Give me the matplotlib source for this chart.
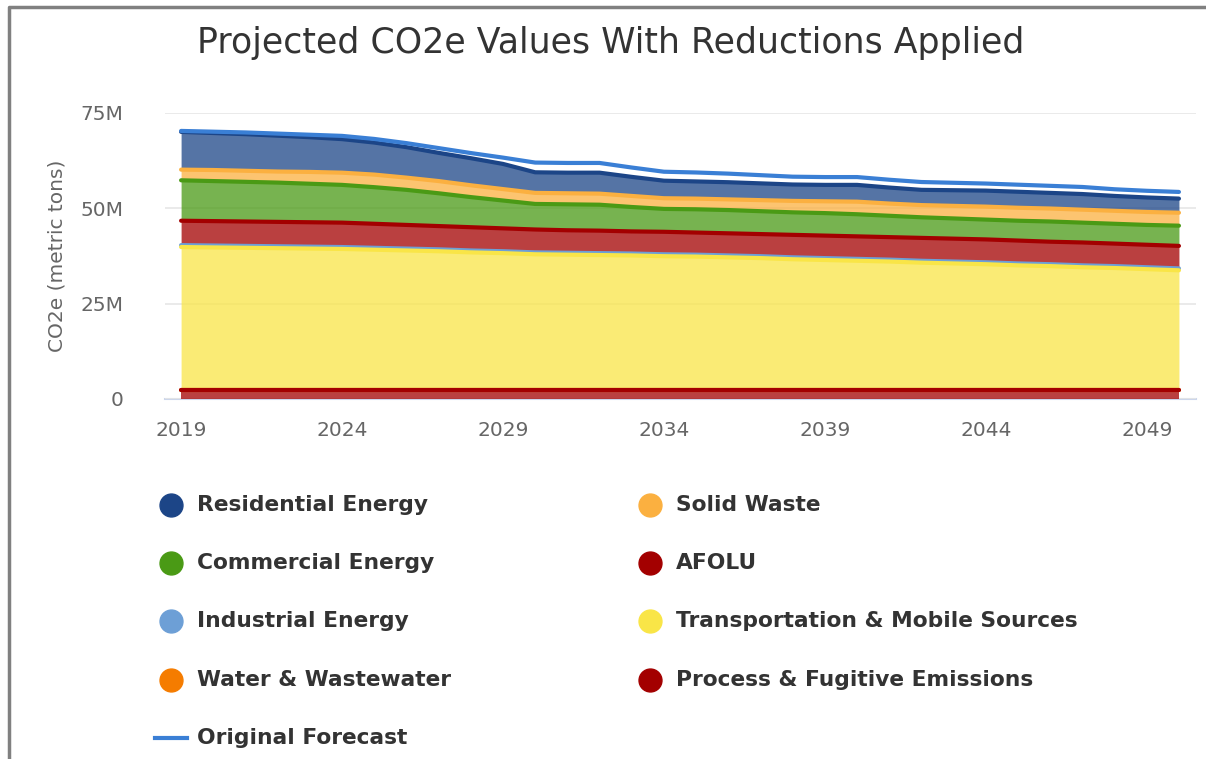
import numpy as np
import matplotlib.pyplot as plt
from matplotlib.lines import Line2D

years = np.arange(2019, 2051)

# stacked series, values in millions of metric tons (top of stack first, as in the legend)
residential = [9.9, 9.7, 9.6, 9.4, 9.1, 8.8, 8.4, 8.0, 7.4, 7.1, 6.6, 5.4, 5.4, 5.5, 5.0, 4.6,
               4.5, 4.5, 4.4, 4.3, 4.3, 4.4, 4.2, 4.0, 4.1, 4.2, 4.2, 4.1, 4.1, 3.9, 3.8, 3.7]
solid_waste = [2.8, 2.9, 2.9, 2.9, 3.1, 3.2, 3.3, 3.2, 3.2, 3.1, 3.0, 2.9, 2.9, 2.9, 2.9, 2.8,
               2.8, 2.8, 2.9, 3.0, 3.1, 3.3, 3.2, 3.2, 3.3, 3.4, 3.4, 3.4, 3.4, 3.4, 3.4, 3.4]
commercial = [10.6, 10.5, 10.4, 10.3, 10.1, 9.9, 9.6, 9.2, 8.6, 7.9, 7.3, 6.7, 6.8, 6.8, 6.4, 6.0,
              6.1, 6.1, 6.0, 5.9, 5.9, 5.8, 5.6, 5.4, 5.3, 5.2, 5.2, 5.3, 5.2, 5.2, 5.2, 5.3]
afolu = [6.4, 6.4, 6.4, 6.4, 6.4, 6.4, 6.3, 6.2, 6.1, 6.1, 6.0, 6.0, 5.9, 5.9, 5.8, 5.9,
         5.8, 5.8, 5.8, 5.9, 5.9, 5.9, 5.9, 6.0, 6.0, 6.0, 6.0, 5.9, 6.0, 5.9, 5.9, 5.9]
industrial = [0.5, 0.5, 0.5, 0.5, 0.5, 0.5, 0.5, 0.5, 0.5, 0.5, 0.5, 0.5, 0.5, 0.5, 0.5, 0.5,
              0.5, 0.5, 0.5, 0.5, 0.5, 0.5, 0.5, 0.5, 0.5, 0.5, 0.5, 0.5, 0.5, 0.5, 0.5, 0.5]
transportation = [37.5, 37.4, 37.3, 37.2, 37.1, 37.0, 36.8, 36.6, 36.4, 36.1, 35.9, 35.6, 35.5, 35.4, 35.3, 35.1,
                  35.0, 34.8, 34.6, 34.3, 34.1, 33.9, 33.7, 33.4, 33.2, 33.0, 32.7, 32.5, 32.2, 32.0, 31.7, 31.4]
water = [0.05, 0.05, 0.05, 0.05, 0.05, 0.05, 0.05, 0.05, 0.05, 0.05, 0.05, 0.05, 0.05, 0.05, 0.05, 0.05,
         0.05, 0.05, 0.05, 0.05, 0.05, 0.05, 0.05, 0.05, 0.05, 0.05, 0.05, 0.05, 0.05, 0.05, 0.05, 0.05]
process = [2.3, 2.3, 2.3, 2.3, 2.3, 2.3, 2.3, 2.3, 2.3, 2.3, 2.3, 2.3, 2.3, 2.3, 2.3, 2.3,
           2.3, 2.3, 2.3, 2.3, 2.3, 2.3, 2.3, 2.3, 2.3, 2.3, 2.3, 2.3, 2.3, 2.3, 2.3, 2.3]
original_forecast = [70.3, 70.1, 69.9, 69.6, 69.3, 69.0, 68.2, 67.1, 65.8, 64.5, 63.3, 62.0, 61.9, 61.9, 60.7, 59.6,
                     59.4, 59.1, 58.7, 58.3, 58.2, 58.2, 57.5, 56.9, 56.7, 56.5, 56.2, 55.9, 55.6, 55.0, 54.6, 54.3]

names = ["Residential Energy", "Solid Waste", "Commercial Energy", "AFOLU", "Industrial Energy",
         "Transportation & Mobile Sources", "Water & Wastewater", "Process & Fugitive Emissions"]
series = [residential, solid_waste, commercial, afolu, industrial, transportation, water, process]
colors = ["#1c4587", "#fbb040", "#4a9a15", "#a30000", "#6d9fd6", "#f9e547", "#f57c00", "#a30000"]
forecast_color = "#3a7fd5"

fig = plt.figure(figsize=(12.06, 7.59), dpi=100)
ax = fig.add_axes([165 / 1206, 1 - 399 / 759, 1031 / 1206, 286 / 759])

# stack from the bottom (last series) upward
tops = []
base = np.zeros(len(years))
for vals in reversed(series):
    top = base + np.array(vals)
    tops.append((base, top))
    base = top
tops = tops[::-1]

# later series are drawn over earlier ones
for i, ((lo, hi), col) in enumerate(zip(tops, colors)):
    ax.fill_between(years, lo, hi, color=col, alpha=0.75, lw=0, zorder=2 + i * 0.1)
    ax.plot(years, hi, color=col, lw=3, solid_capstyle="round", zorder=3 + i * 0.1)

ax.plot(years, original_forecast, color=forecast_color, lw=3, solid_capstyle="round", zorder=4)

ax.set_xlim(2018.5, 2050.53)
ax.set_ylim(0, 75)
ax.set_xticks(np.arange(2019, 2051, 5))
ax.set_yticks([0, 25, 50, 75])
ax.set_yticklabels(["0", "25M", "50M", "75M"])
ax.tick_params(length=0, colors="#666666", labelsize=14.5)
ax.tick_params(axis="y", pad=30)
ax.tick_params(axis="x", pad=16)
ax.grid(axis="y", color="#e6e6e6", lw=1.2, zorder=0)
for s in ["top", "right", "left"]:
    ax.spines[s].set_visible(False)
ax.spines["bottom"].set_color("#ccd6eb")
ax.spines["bottom"].set_linewidth(1.5)
ax.spines["bottom"].set_zorder(1)
ax.set_ylabel("CO2e (metric tons)", color="#666666", fontsize=14.5, labelpad=10)

fig.text(611 / 1206, 1 - 43 / 759, "Projected CO2e Values With Reductions Applied",
         ha="center", va="center", fontsize=25, color="#333333")

# legend laid out as in the reference (two columns)
col_x = [171, 650]
row_y = [505, 563, 621, 680]
for i, (name, col) in enumerate(zip(names, colors)):
    cx = col_x[i % 2]
    cy = row_y[i // 2]
    fig.add_artist(Line2D([cx / 1206], [1 - cy / 759], marker="o", markersize=16.5,
                          color=col, lw=0, transform=fig.transFigure))
    fig.text((cx + 26) / 1206, 1 - cy / 759, name, ha="left", va="center",
             fontsize=15.7, fontweight="bold", color="#333333")
fig.add_artist(Line2D([155 / 1206, 187 / 1206], [1 - 738 / 759, 1 - 738 / 759],
                      color=forecast_color, lw=3, transform=fig.transFigure))
fig.text(197 / 1206, 1 - 738 / 759, "Original Forecast", ha="left", va="center",
         fontsize=15.7, fontweight="bold", color="#333333")

# outer frame (top and left edges visible)
fig.add_artist(Line2D([9 / 1206, 9 / 1206, 1], [0, 1 - 7 / 759, 1 - 7 / 759],
                      color="#808080", lw=2.5, transform=fig.transFigure))

fig.savefig("out.png", dpi=100)
